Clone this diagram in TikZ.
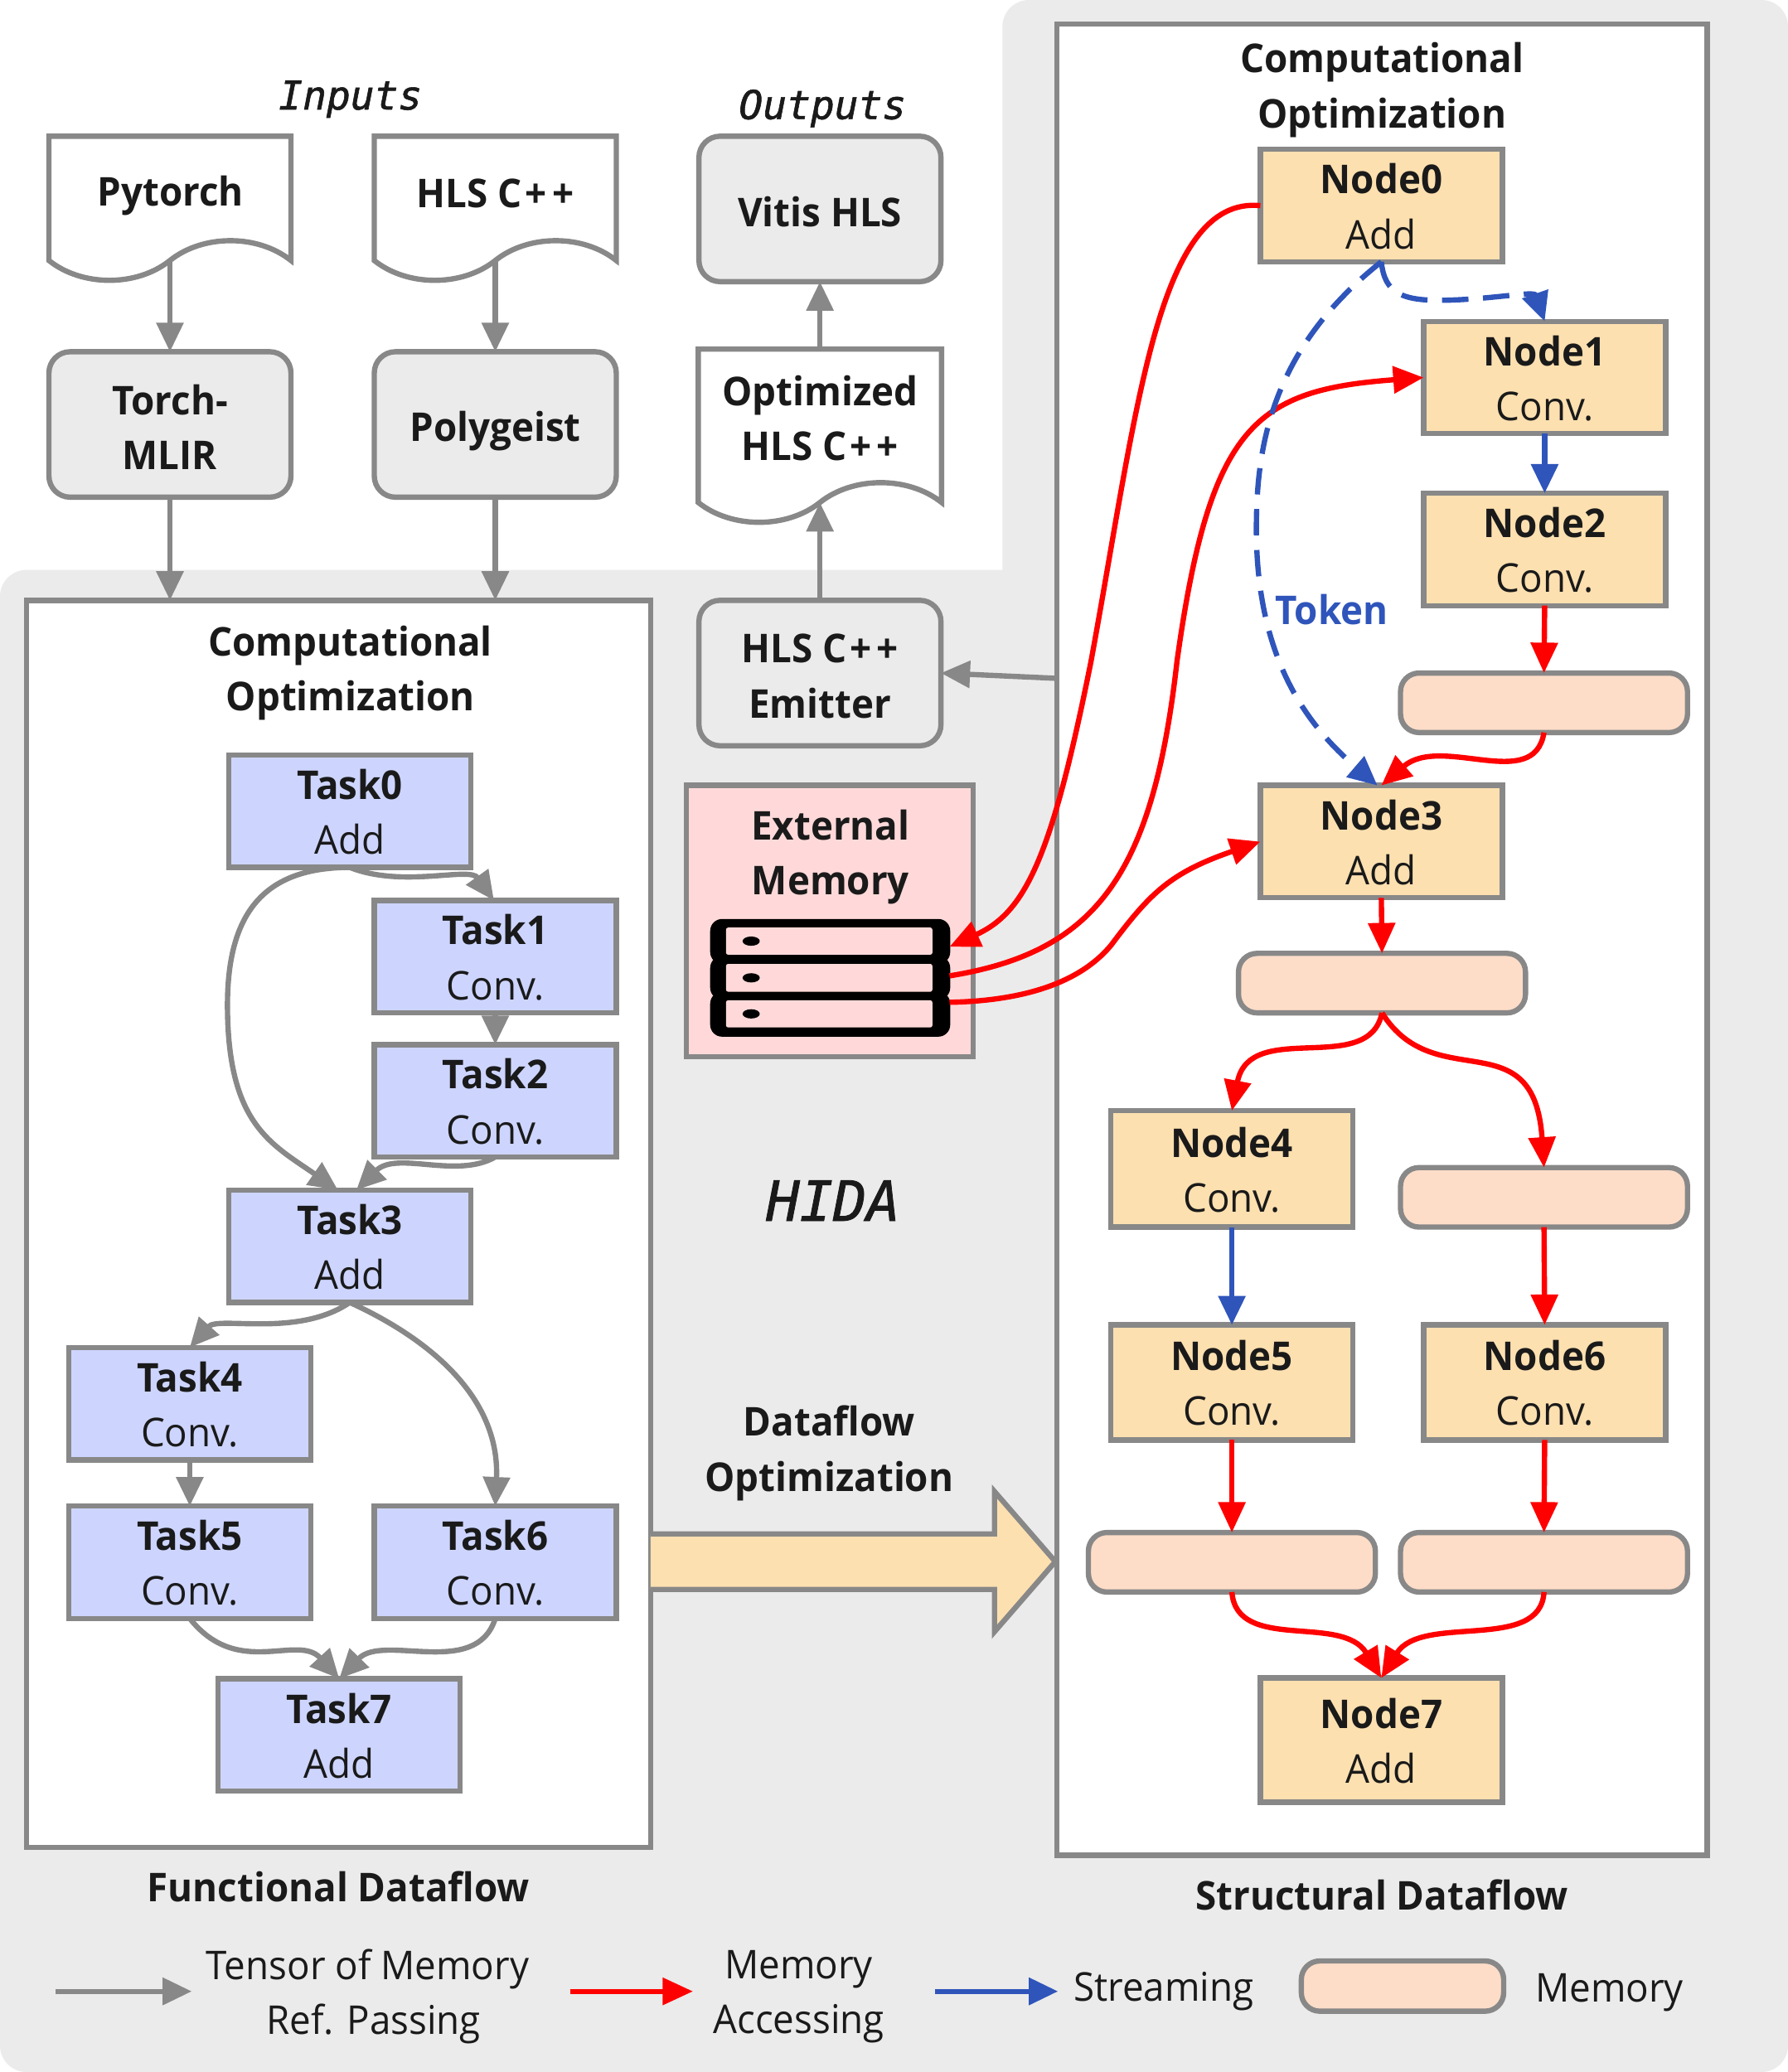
\documentclass[tikz,border=0pt]{standalone}
\usepackage{fontspec}
\setmainfont{Open Sans}[FakeStretch=0.955]
\newfontfamily\slantmono{DejaVu Sans Mono}[ItalicFeatures={FakeBold=1.2}]
\usetikzlibrary{arrows.meta,calc}
\definecolor{lineg}{HTML}{888888}
\definecolor{bgg}{HTML}{EBEBEB}
\definecolor{taskf}{HTML}{CDD5FF}
\definecolor{nodef}{HTML}{FDE0B0}
\definecolor{memf}{HTML}{FEDDC8}
\definecolor{extf}{HTML}{FFD9D9}
\definecolor{blueL}{HTML}{2F55BB}
\definecolor{ink}{HTML}{1A1A1A}
\tikzset{
  txt/.style={font=\fontsize{30}{41.5}\selectfont,text=ink,align=center,inner sep=0pt,outer sep=0pt},
  btxt/.style={txt,font=\fontsize{30}{41.5}\selectfont\bfseries},
  itxt/.style={txt,font=\fontsize{30}{41.5}\selectfont\slantmono\itshape},
  boxbase/.style={draw=lineg,line width=4pt,outer sep=0pt,inner sep=0pt,txt},
  taskbox/.style={boxbase,fill=taskf,minimum width=183pt,minimum height=85pt},
  nodebox/.style={boxbase,fill=nodef,minimum width=183pt,minimum height=85pt},
  toolbox/.style={boxbase,btxt,fill=bgg,rounded corners=16pt,minimum width=183pt,minimum height=110pt},
  membox/.style={boxbase,fill=memf,rounded corners=14pt,minimum width=217pt,minimum height=45pt},
  container/.style={boxbase,fill=white},
  gline/.style={draw=lineg,line width=4pt,-{Triangle[length=22pt,width=20pt]}},
  rline/.style={draw=red,line width=4pt,-{Triangle[length=23pt,width=20pt]}},
  bline/.style={draw=blueL,line width=4pt,-{Triangle[length=22pt,width=20pt]}},
  bdash/.style={bline,dash pattern=on 20pt off 11pt},
}
\newcommand{\docshape}[5]{% name, L, R, top, wave y
  \filldraw[draw=lineg,fill=white,line width=4pt,line join=miter]
    (#2,#4) -- (#3,#4) -- (#3,#5)
    .. controls ({#3-25},{#5-20}) and ({(#2+#3)/2+25},{#5-20}) .. ({(#2+#3)/2},#5)
    .. controls ({(#2+#3)/2-25},{#5+20}) and ({#2+25},{#5+20}) .. (#2,#5) -- cycle;
  \coordinate (#1-out) at ({(#2+#3)/2},#5);
  \coordinate (#1-top) at ({(#2+#3)/2},#4);
}
\newcommand{\tasktext}[2]{\rule{0pt}{24pt}\textbf{#1}\\#2}
\newcommand{\hlscpp}{HLS C\kern2.5pt+\kern4pt+}
\begin{document}
\begin{tikzpicture}[x=1pt,y=-1pt]
\useasboundingbox (0,0) rectangle (1352,1567);
% grey ground
\fill[bgg] (0,1000) [rounded corners=20pt] -- (0,431) [sharp corners] -- (758,431) [rounded corners=20pt] -- (758,0) -- (1352,0) -- (1352,1567) -- (0,1567) -- cycle;
% containers
\node[container,minimum width=472pt,minimum height=943pt] (func) at (256,925.5) {};
\node[container,minimum width=492pt,minimum height=1385pt] (struct) at (1045,710.5) {};
% captions
\node[itxt] (inputs) at (265,75) {Inputs};
\node[itxt] (outputs) at (622,82) {Outputs};
\node[btxt] (ctitleL) at (265,509) {Computational\\Optimization};
\node[btxt] (ctitleR) at (1045,68) {Computational\\Optimization};
\node[itxt,font=\fontsize{42}{50}\selectfont\slantmono\itshape] (hida) at (630,908) {HIDA};
\node[btxt] (dfopt) at (627,1099) {Dataflow\\Optimization};
\node[btxt] (fdf) at (256,1427) {Functional Dataflow};
\node[btxt] (sdf) at (1045,1433) {Structural Dataflow};
% documents
\docshape{pt}{37}{220}{103}{197}
\node[btxt] (pytorch) at (129,148) {Pytorch};
\docshape{hls}{283}{466}{103}{197}
\node[btxt] (hlscpp) at (374.5,146) {\hlscpp};
\docshape{opt}{528}{712}{264}{380}
\node[btxt] (opthls) at (620,316) {Optimized\\\hlscpp};
% tools
\node[toolbox] (torch) at (128.5,321) {\rule{0pt}{27pt}Torch-\\MLIR};
\node[toolbox] (poly) at (374.5,321) {\rule{0pt}{33pt}Polygeist};
\node[toolbox] (vitis) at (620,158) {\rule{0pt}{27pt}Vitis HLS};
\node[toolbox] (emit) at (620,509) {\rule{0pt}{26.5pt}\hlscpp\\Emitter};
% external memory
\node[boxbase,fill=extf,minimum width=217pt,minimum height=205pt] (ext) at (627.5,696.5) {};
\node[btxt] (exttxt) at (628,648) {External\\Memory};
\fill[black,rounded corners=9pt] (537,695) rectangle (718.5,729);
\fill[black,rounded corners=9pt] (537,723) rectangle (718.5,756);
\fill[black,rounded corners=9pt] (537,750) rectangle (718.5,784);
\foreach \yt/\yb in {701.5/722,729/750,756.5/777}{
  \fill[extf,rounded corners=1.5pt] (549,\yt) rectangle (705,\yb);
  \fill[black] (568,{(\yt+\yb)/2}) ellipse (6.5pt and 3.5pt);
}
\coordinate (bar1) at (718,716);
\coordinate (bar2) at (718,738);
\coordinate (bar3) at (718,758);
% tasks
\node[taskbox] (task0) at (264.5,613.5) {\tasktext{Task0}{Add}};
\node[taskbox] (task1) at (374.5,723.5) {\tasktext{Task1}{Conv.}};
\node[taskbox] (task2) at (374.5,832.5) {\tasktext{Task2}{Conv.}};
\node[taskbox] (task3) at (264.5,942.5) {\tasktext{Task3}{Add}};
\node[taskbox] (task4) at (143.5,1061.5) {\tasktext{Task4}{Conv.}};
\node[taskbox] (task5) at (143.5,1181.5) {\tasktext{Task5}{Conv.}};
\node[taskbox] (task6) at (374.5,1181.5) {\tasktext{Task6}{Conv.}};
\node[taskbox] (task7) at (256.5,1312) {\tasktext{Task7}{Add}};
% struct nodes
\node[nodebox] (node0) at (1044.5,155.5) {\tasktext{Node0}{Add}};
\node[nodebox] (node1) at (1168,285.5) {\tasktext{Node1}{Conv.}};
\node[nodebox] (node2) at (1168,415.5) {\tasktext{Node2}{Conv.}};
\node[nodebox] (node3) at (1044.5,636.5) {\tasktext{Node3}{Add}};
\node[nodebox,minimum height=88pt] (node4) at (931.5,884) {\tasktext{Node4}{Conv.}};
\node[nodebox,minimum height=87pt] (node5) at (931.5,1045.5) {\tasktext{Node5}{Conv.}};
\node[nodebox,minimum height=87pt] (node6) at (1168,1045.5) {\tasktext{Node6}{Conv.}};
\node[nodebox,minimum height=94pt] (node7) at (1044.5,1316) {\tasktext{Node7}{Add}};
% memories
\node[membox] (m1) at (1167.5,531.5) {};
\node[membox] (m2) at (1045,743.5) {};
\node[membox] (m3) at (1167.5,905.5) {};
\node[membox] (m4) at (931.5,1181.5) {};
\node[membox] (m5) at (1167.5,1181.5) {};
% big arrow
\filldraw[draw=lineg,fill=nodef,line width=4pt,line join=miter]
  (492,1160) -- (752,1160) -- (752,1128) -- (798,1181) -- (752,1234) -- (752,1202) -- (492,1202);
% grey connectors
\draw[gline] (pt-out) -- (torch.north);
\draw[gline] (hls-out) -- (poly.north);
\draw[gline] (torch.south) -- (func.north -| torch.south);
\draw[gline] (poly.south) -- (func.north -| poly.south);
\draw[gline] (emit.north) -- (opt-out);
\draw[gline] (opt-top) -- (vitis.south);
\draw[gline] (struct.west |- 0,513) -- (emit.east);
\draw[gline] (task0.south) .. controls (305,672) and (355,655) .. ([xshift=-1pt]task1.north);
\draw[gline] (task0.south) .. controls (200,656) and (172,690) .. (172,760) .. controls (172,850) and (205,865) .. ([xshift=-9pt]task3.north);
\draw[gline] (task1.south) -- (task2.north);
\draw[gline] (task2.south) .. controls (345,892) and (300,870) .. ([xshift=5pt]task3.north);
\draw[gline] (task3.south) .. controls (225,1012) and (165,995) .. (task4.north);
\draw[gline] (task3.south) .. controls (330,1015) and (378,1060) .. (task6.north);
\draw[gline] (task4.south) -- (task5.north);
\draw[gline] (task5.south) .. controls (180,1270) and (225,1235) .. (task7.north);
\draw[gline] (task6.south) .. controls (360,1270) and (290,1235) .. (task7.north);
% red connectors
\draw[rline] (node0.west) .. controls (875,148) and (860,310) .. (825,500) .. controls (795,650) and (775,690) .. (bar1);
\draw[rline] (bar2) .. controls (830,720) and (872,660) .. (890,500) .. controls (915,320) and (950,295) .. (node1.west);
\draw[rline] (bar3) .. controls (770,757) and (815,745) .. (840,715) .. controls (870,675) and (885,660) .. (node3.west);
\draw[rline] (node2.south) -- (m1.north);
\draw[rline] (m1.south) .. controls (1160,600) and (1090,555) .. (node3.north);
\draw[rline] (node3.south) -- (m2.north);
\draw[rline] (m2.south) .. controls (1035,815) and (945,770) .. (node4.north);
\draw[rline] (m2.south) .. controls (1085,830) and (1160,770) .. (m3.north);
\draw[rline] (m3.south) -- (node6.north);
\draw[rline] (node5.south) -- (m4.north);
\draw[rline] (node6.south) -- (m5.north);
\draw[rline] (m4.south) .. controls (935,1250) and (1015,1220) .. (node7.north);
\draw[rline] (m5.south) .. controls (1165,1250) and (1075,1220) .. (node7.north);
% blue connectors
\draw[bdash] (node0.south) .. controls (1047,222) and (1060,228) .. (1095,227) .. controls (1130,226) and (1160,220) .. (node1.north);
\draw[bdash] (node0.south) .. controls (960,265) and (950,340) .. (950,400) .. controls (950,500) and (990,550) .. ([xshift=-3pt]node3.north);
\draw[bline] (node1.south) -- (node2.north);
\draw[bline] (node4.south) -- (node5.north);
\node[btxt,text=blueL] (token) at (1007,461) {Token};
% legend
\coordinate (lg1a) at (42,1506); \coordinate (lg1b) at (145,1506);
\coordinate (lg2a) at (431,1506); \coordinate (lg2b) at (524,1506);
\coordinate (lg3a) at (707,1506); \coordinate (lg3b) at (800,1506);
\draw[gline] (lg1a) -- (lg1b);
\draw[rline] (lg2a) -- (lg2b);
\draw[bline] (lg3a) -- (lg3b);
\node[txt] (lt1) at (278,1510) {Tensor of Memory\\\kern9pt Ref. Passing};
\node[txt] (lt2) at (604,1510) {Memory\\Accessing};
\node[txt] (lt3) at (880,1506) {Streaming};
\node[membox,minimum width=153pt,minimum height=38pt] (lmem) at (1060.5,1502) {};
\node[txt] (lt4) at (1217,1507) {Memory};
\end{tikzpicture}
\end{document}
